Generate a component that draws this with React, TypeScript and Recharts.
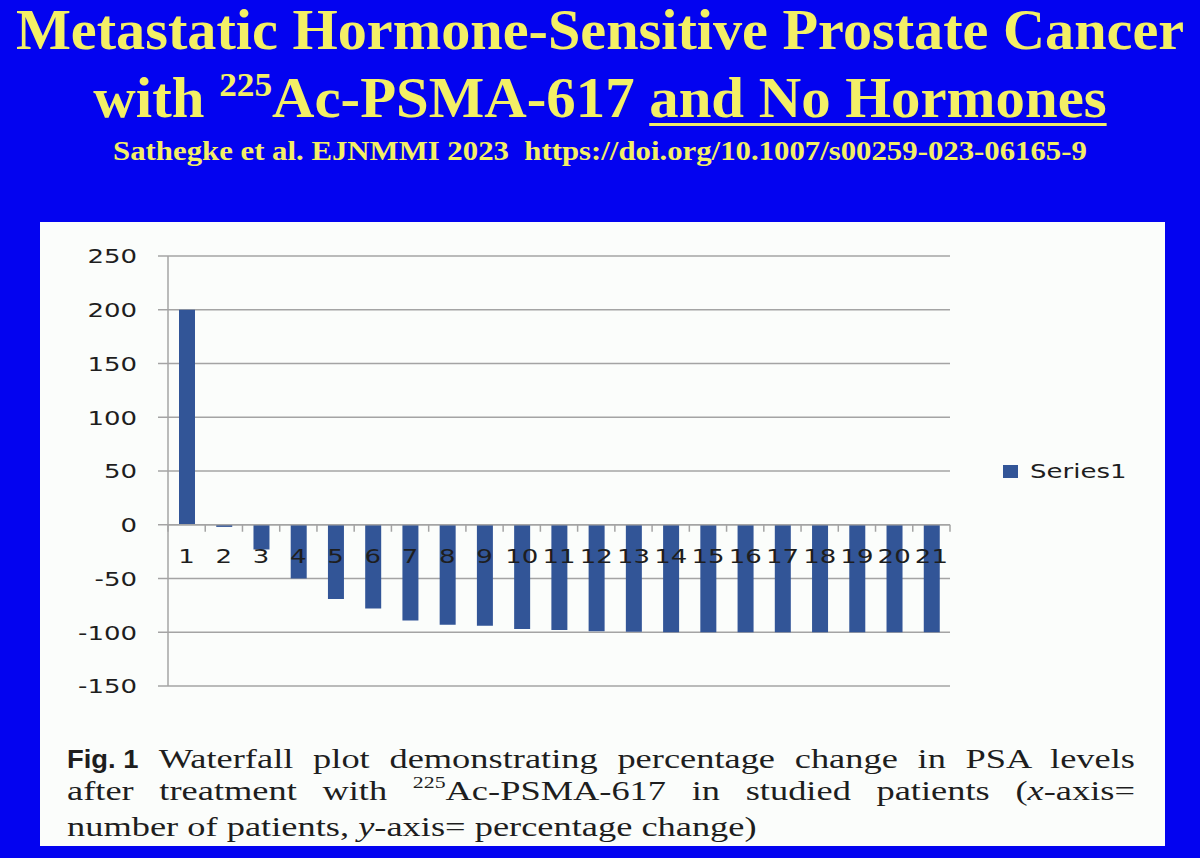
import React from "react";
import { BarChart, Bar, XAxis, YAxis, CartesianGrid, ReferenceLine, Legend } from "recharts";

const patients = ["1", "2", "3", "4", "5", "6", "7", "8", "9", "10", "11", "12", "13", "14", "15", "16", "17", "18", "19", "20", "21"];
const psaChange = [200, -2, -23, -50, -69, -78, -89, -93, -94, -97, -98, -99, -99.5, -100, -100, -100, -100, -100, -100, -100, -100];
const yTicks = [-150, -100, -50, 0, 50, 100, 150, 200, 250];
const seriesName = "Series1";

const data = patients.map((p, i) => ({ patient: p, change: psaChange[i] }));

const BLUE_BG = "#0303f0";
const YELLOW = "#f3ef66";
const BAR = "#325597";
const GRID = "#a4a4a4";
const INK = "#1e1e1e";
const SERIF = "'Liberation Serif', 'Times New Roman', Times, serif";
// the slide is stretched sideways, so text is too
const STRETCH = 1.3;

function YTick({ x, y, payload }: any) {
  return (
    <text
      transform={`translate(${x},${y}) scale(${STRETCH},1)`}
      textAnchor="end"
      dominantBaseline="central"
      fontFamily="DejaVu Sans"
      fontSize={20}
      fill={INK}
    >
      {payload.value}
    </text>
  );
}

// x axis sits on the zero line: tick marks between patients, numbers under it
function ZeroAxis(props: any) {
  const vb = props.viewBox || {};
  const x0 = vb.x1 != null ? vb.x1 : vb.x;
  const w = vb.x2 != null ? vb.x2 - vb.x1 : vb.width;
  const y0 = vb.y1 != null ? vb.y1 : vb.y;
  const band = w / patients.length;
  return (
    <g>
      {[...patients, ""].map((_, i) => (
        <line key={`t${i}`} x1={x0 + i * band} x2={x0 + i * band} y1={y0} y2={y0 + 7} stroke={GRID} strokeWidth={1.5} />
      ))}
      {patients.map((p, i) => (
        <text
          key={p}
          transform={`translate(${x0 + (i + 0.5) * band},${y0 + 38}) scale(${STRETCH},1)`}
          textAnchor="middle"
          fontFamily="DejaVu Sans"
          fontSize={20}
          fill={INK}
        >
          {p}
        </text>
      ))}
    </g>
  );
}

function LegendBox(props: any) {
  const items = props.payload || [];
  return (
    <div>
      {items.map((it: any) => (
        <div key={it.value} style={{ display: "flex", alignItems: "center", height: 24 }}>
          <span style={{ display: "inline-block", width: 15, height: 13, background: it.color }} />
          <span
            style={{
              display: "inline-block",
              marginLeft: 12,
              fontFamily: "DejaVu Sans",
              fontSize: 20,
              color: INK,
              transform: `scaleX(${STRETCH})`,
              transformOrigin: "left center",
            }}
          >
            {it.value}
          </span>
        </div>
      ))}
    </div>
  );
}

const titleLine: React.CSSProperties = {
  position: "absolute",
  left: 0,
  width: 1200,
  textAlign: "center",
  whiteSpace: "nowrap",
  color: YELLOW,
  fontFamily: SERIF,
  fontWeight: "bold",
  transformOrigin: "center",
};

const sup: React.CSSProperties = { fontSize: "0.6em", position: "relative", top: "-0.62em" };

export default function App() {
  return (
    <div style={{ position: "absolute", left: 0, top: 0, width: 1200, height: 858, background: BLUE_BG, overflow: "hidden" }}>
      <div style={{ ...titleLine, top: 2, fontSize: 56, lineHeight: "56px", transform: "scaleX(1.04)" }}>
        Metastatic Hormone-Sensitive Prostate Cancer
      </div>
      <div style={{ ...titleLine, top: 70, fontSize: 56, lineHeight: "56px", transform: "scaleX(1.05)" }}>
        with <span style={sup}>225</span>Ac-PSMA-617{" "}
        <span style={{ textDecoration: "underline", textDecorationThickness: 3, textUnderlineOffset: 6 }}>and No Hormones</span>
      </div>
      <div style={{ ...titleLine, top: 138, fontSize: 27, lineHeight: "27px", transform: "scaleX(1.14)" }}>
        Sathegke et al. EJNMMI 2023&nbsp;&nbsp;https://doi.org/10.1007/s00259-023-06165-9
      </div>

      <div style={{ position: "absolute", left: 40, top: 222, width: 1125, height: 624, background: "#fbfdfb" }}>
        <BarChart width={1125} height={480} data={data} margin={{ top: 34, right: 215, bottom: 16, left: 0 }}>
          <CartesianGrid vertical={false} stroke={GRID} strokeWidth={1.5} />
          <XAxis dataKey="patient" hide />
          <YAxis
            domain={[-150, 250]}
            ticks={yTicks}
            interval={0}
            width={128}
            tickSize={10}
            tickMargin={21}
            axisLine={{ stroke: GRID, strokeWidth: 1.5 }}
            tickLine={{ stroke: GRID, strokeWidth: 1.5 }}
            tick={<YTick />}
          />
          <Bar dataKey="change" name={seriesName} fill={BAR} barSize={16} isAnimationActive={false} />
          <ReferenceLine y={0} stroke={GRID} strokeWidth={1.5} label={<ZeroAxis />} />
          <Legend
            layout="vertical"
            align="center"
            verticalAlign="middle"
            wrapperStyle={{ left: 963, top: 237, width: 180 }}
            content={<LegendBox />}
          />
        </BarChart>

        <div
          style={{
            position: "absolute",
            left: 27,
            top: 521,
            width: 1068 / STRETCH,
            transform: `scaleX(${STRETCH})`,
            transformOrigin: "left top",
            fontFamily: SERIF,
            fontSize: 28,
            lineHeight: "32px",
            color: INK,
            whiteSpace: "nowrap",
          }}
        >
          <div style={{ textAlign: "justify", textAlignLast: "justify", whiteSpace: "normal" }}>
            <span
              style={{
                display: "inline-block",
                width: 56,
                fontFamily: "'Liberation Sans', Arial, sans-serif",
                fontWeight: "bold",
                fontSize: 26,
                transform: "scaleX(0.81)",
                transformOrigin: "left center",
                whiteSpace: "nowrap",
              }}
            >
              Fig. 1
            </span>{" "}
            Waterfall plot demonstrating percentage change in PSA levels
          </div>
          <div style={{ textAlign: "justify", textAlignLast: "justify", whiteSpace: "normal" }}>
            after treatment with <span style={{ fontSize: "0.6em", position: "relative", top: "-0.7em" }}>225</span>Ac-PSMA-617 in studied patients (<i>x</i>-axis=
          </div>
          <div>
            number of patients, <i>y</i>-axis= percentage change)
          </div>
        </div>
      </div>
    </div>
  );
}
